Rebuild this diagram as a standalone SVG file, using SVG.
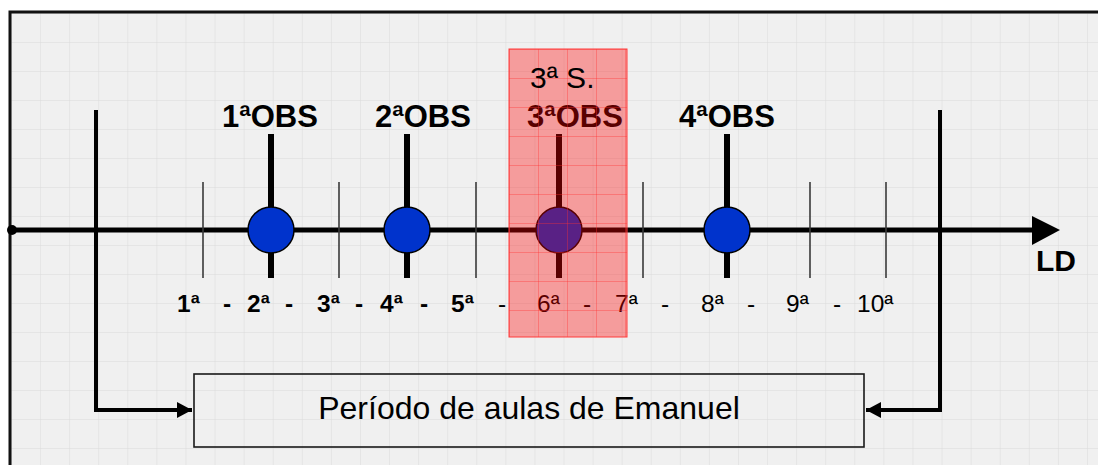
<svg xmlns="http://www.w3.org/2000/svg" width="1098" height="465" viewBox="0 0 1098 465">
  <style>
    .obs { font-family: "Liberation Sans", Arial, sans-serif; font-size: 31px; font-weight: bold; fill: #000; }
    .num { font-family: "Liberation Sans", Arial, sans-serif; font-size: 24.5px; fill: #000; }
    .b { font-weight: bold; }
    .dash { text-anchor: middle; }
    .tick { stroke: #3a3a3a; stroke-width: 1.6; }
    .stem { stroke: #000; stroke-width: 6; }
    .dot { fill: #0033cc; stroke: #000; stroke-width: 1.5; }
    .conn { fill: none; stroke: #000; stroke-width: 4; }
  </style>
  <defs>
    <pattern id="grid" x="11" y="13" width="29.08" height="29" patternUnits="userSpaceOnUse">
      <path d="M0,0 V29 M0,0 H29.08" fill="none" stroke="#dadada" stroke-width="1"/>
    </pattern>
    <pattern id="redgrid" x="509" y="49" width="29" height="29" patternUnits="userSpaceOnUse">
      <path d="M0,0 V29 M0,0 H29" fill="none" stroke="#ff3030" stroke-width="1" stroke-opacity="0.7"/>
    </pattern>
    <marker id="arr" markerUnits="userSpaceOnUse" markerWidth="16" markerHeight="18" refX="15" refY="8" orient="auto">
      <path d="M0,0 L15,8 L0,16 Z" fill="#000"/>
    </marker>
  </defs>

  <!-- background and frame -->
  <rect x="0" y="0" width="1098" height="465" fill="#ffffff"/>
  <rect x="10" y="12" width="1088" height="453" fill="#f0f0f0"/>
  <rect x="10" y="12" width="1088" height="453" fill="url(#grid)"/>
  <path d="M10,465 V12 H1098" fill="none" stroke="#111" stroke-width="3"/>

  <!-- main axis -->
  <g id="axis">
    <line x1="12" y1="230" x2="1034" y2="230" stroke="#000" stroke-width="5"/>
    <circle cx="12" cy="230" r="5" fill="#000"/>
    <polygon points="1032,216 1060,230 1032,245" fill="#000"/>
    <text x="1036" y="271" class="obs" style="font-size:30px">LD</text>
  </g>

  <!-- ticks -->
  <g id="ticks">
    <line class="tick" x1="203" y1="182" x2="203" y2="278"/>
    <line class="tick" x1="339" y1="182" x2="339" y2="278"/>
    <line class="tick" x1="476" y1="182" x2="476" y2="278"/>
    <line class="tick" x1="643" y1="182" x2="643" y2="278"/>
    <line class="tick" x1="810" y1="182" x2="810" y2="278"/>
    <line class="tick" x1="886" y1="182" x2="886" y2="278"/>
  </g>

  <!-- connectors -->
  <g id="connectors">
    <path class="conn" d="M96,110 V410 H192" marker-end="url(#arr)"/>
    <path class="conn" d="M940,110 V410 H866" marker-end="url(#arr)"/>
  </g>

  <!-- observations -->
  <g id="obs1">
    <line class="stem" x1="271" y1="134" x2="271" y2="278"/>
    <circle class="dot" cx="271" cy="230" r="23"/>
    <text x="222" y="127" class="obs">1ªOBS</text>
  </g>
  <g id="obs2">
    <line class="stem" x1="407" y1="134" x2="407" y2="278"/>
    <circle class="dot" cx="407" cy="230" r="23"/>
    <text x="375" y="127" class="obs">2ªOBS</text>
  </g>
  <g id="obs3">
    <line class="stem" x1="559" y1="134" x2="559" y2="278"/>
    <circle class="dot" cx="559" cy="230" r="23"/>
    <text x="527" y="127" class="obs">3ªOBS</text>
  </g>
  <g id="obs4">
    <line class="stem" x1="727" y1="134" x2="727" y2="278"/>
    <circle class="dot" cx="727" cy="230" r="23"/>
    <text x="679" y="127" class="obs">4ªOBS</text>
  </g>

  <!-- lesson numbers -->
  <g id="lessons" class="num">
    <text x="177" y="312" class="b">1ª</text>
    <text x="227" y="312" class="b dash">-</text>
    <text x="247" y="312" class="b">2ª</text>
    <text x="289" y="312" class="b dash">-</text>
    <text x="317" y="312" class="b">3ª</text>
    <text x="359" y="312" class="b dash">-</text>
    <text x="380" y="312" class="b">4ª</text>
    <text x="424" y="312" class="b dash">-</text>
    <text x="451" y="312" class="b">5ª</text>
    <text x="502" y="312" class="dash">-</text>
    <text x="537" y="312">6ª</text>
    <text x="587" y="312" class="dash">-</text>
    <text x="615" y="312">7ª</text>
    <text x="665" y="312" class="dash">-</text>
    <text x="701" y="312">8ª</text>
    <text x="751" y="312" class="dash">-</text>
    <text x="786" y="312">9ª</text>
    <text x="837" y="312" class="dash">-</text>
    <text x="857" y="312">10ª</text>
  </g>

  <!-- highlighted week -->
  <g id="week3">
    <rect x="509" y="49" width="118" height="288" fill="#ff0000" fill-opacity="0.35"/>
    <rect x="509" y="49" width="118" height="288" fill="url(#redgrid)"/>
    <rect x="509" y="49" width="118" height="288" fill="none" stroke="#ff3a3a" stroke-width="1"/>
    <text x="530" y="88" class="num" style="font-size:30px">3ª S.</text>
  </g>

  <!-- period box -->
  <g id="period">
    <rect x="194" y="374" width="670" height="73" fill="none" stroke="#1a1a1a" stroke-width="1.6"/>
    <text x="529" y="419" class="num" style="font-size:32px" text-anchor="middle">Período de aulas de Emanuel</text>
  </g>
</svg>
